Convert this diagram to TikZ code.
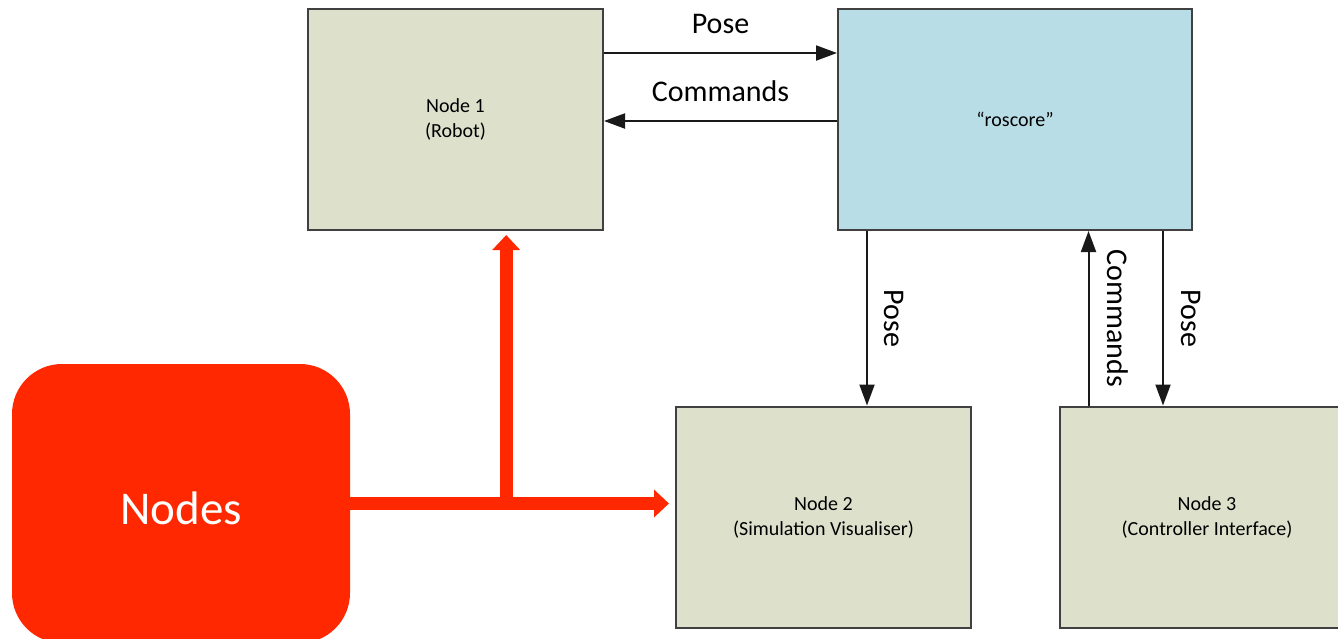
\documentclass[tikz,border=0pt]{standalone}
\usepackage{fontspec}
\setmainfont{Carlito}
\usetikzlibrary{arrows.meta,calc}
\definecolor{nodefill}{HTML}{DDE1CC}
\definecolor{corefill}{HTML}{B9DDE7}
\definecolor{nodered}{HTML}{FF2800}
\definecolor{edgegray}{HTML}{404040}

\begin{document}
\begin{tikzpicture}[x=1pt, y=-1pt,
  rosnode/.style={rectangle, draw=edgegray, line width=2pt, fill=nodefill,
    minimum width=295pt, minimum height=221pt, align=center,
    font=\fontsize{20}{25}\selectfont},
  msg/.style={draw=black!90, line width=2pt, -{Triangle[length=21pt, width=15pt]}},
  msglabel/.style={font=\fontsize{30}{36}\selectfont},
  feed/.style={draw=nodered, line width=13pt, -{Triangle[length=15pt, width=27pt]}}]
  \useasboundingbox (0,0) rectangle (1338,638);

  \node[rosnode] (node1) at (455.5,119.5) {Node 1\\(Robot)};
  \node[rosnode, fill=corefill, minimum width=354pt] (roscore) at (1015,119.5) {“roscore”};
  \node[rosnode] (node2) at (823.5,517) {Node 2\\(Simulation Visualiser)};
  \node[rosnode] (node3) at (1207,517) {Node 3\\(Controller Interface)};

  \node[rectangle, rounded corners=50pt, fill=nodered, text=white,
    minimum width=338pt, minimum height=279pt, text height=42pt,
    font=\fontsize{47}{56}\selectfont] (nodes) at (181,503.5) {Nodes};

  % messages between node 1 and roscore
  \draw[msg] ([yshift=66.5pt]node1.east) -- ([yshift=66.5pt]roscore.west)
    node[midway, msglabel, yshift=29pt] {Pose};
  \draw[msg] ([yshift=-1.5pt]roscore.west) -- ([yshift=-1.5pt]node1.east)
    node[midway, msglabel, yshift=30pt] {Commands};

  % messages below roscore
  \draw[msg] ([xshift=30pt]roscore.south west) -- ([xshift=30pt]roscore.south west |- node2.north)
    node[midway, msglabel, xshift=27pt, rotate=-90] {Pose};
  \draw[msg] ([xshift=30pt]node3.north west) -- ([xshift=30pt]node3.north west |- roscore.south)
    node[midway, msglabel, xshift=29pt, rotate=-90] {Commands};
  \draw[msg] ([xshift=-30pt]roscore.south east) -- ([xshift=-30pt]roscore.south east |- node3.north)
    node[midway, msglabel, xshift=28pt, rotate=-90] {Pose};

  % red pointers
  \coordinate (split) at ([xshift=156pt]nodes.east);
  \draw[feed, shorten >=6pt] (nodes.east) -- (nodes.east -| node2.west);
  \draw[feed, shorten >=4pt] (split) -- (split |- node1.south);
\end{tikzpicture}
\end{document}
